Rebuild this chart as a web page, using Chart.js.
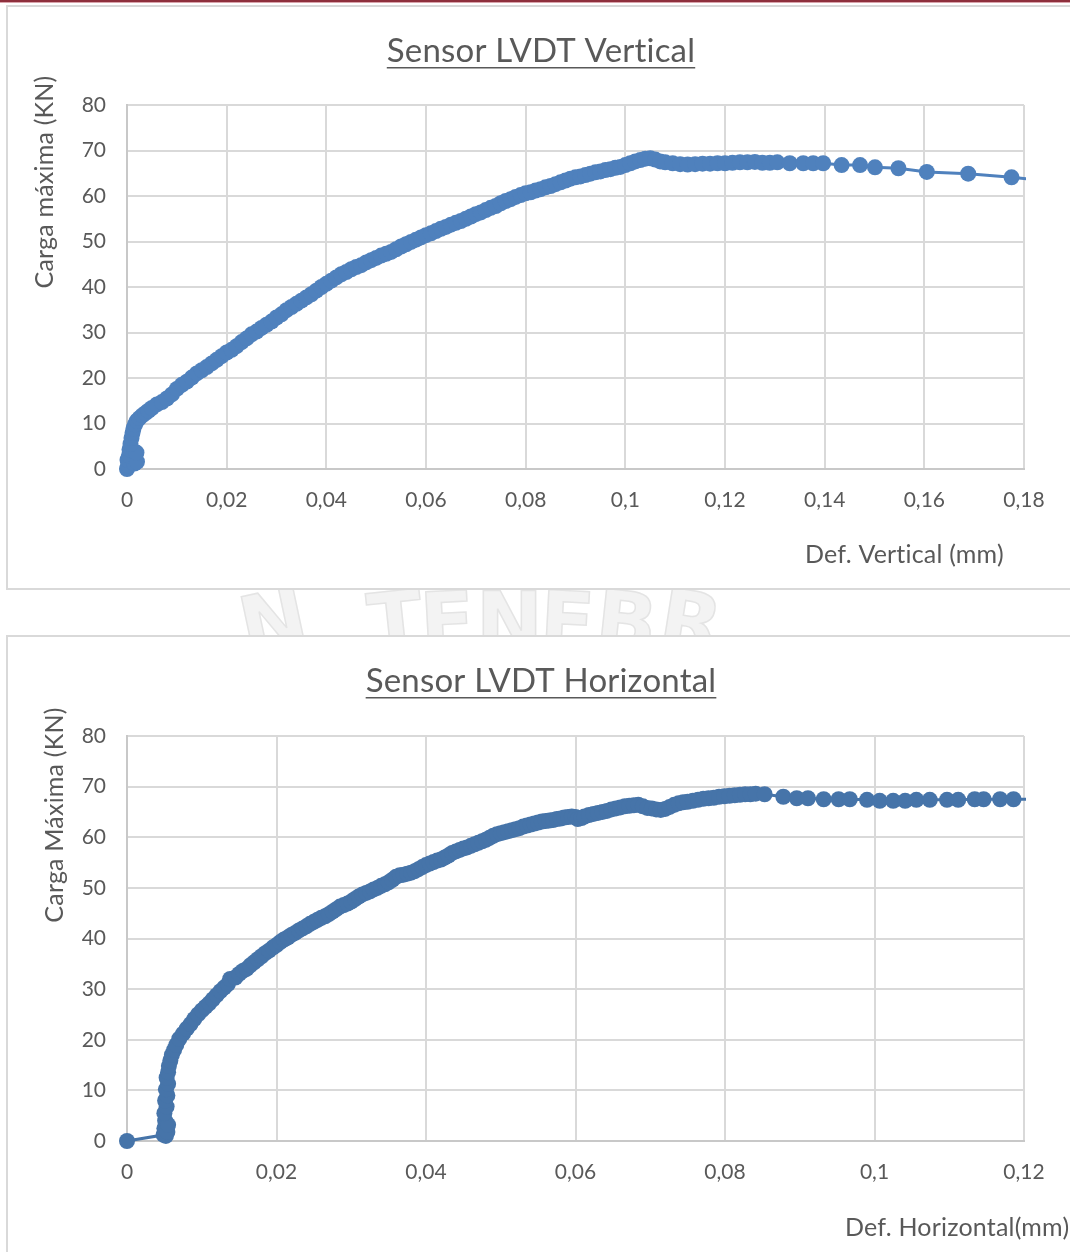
<!DOCTYPE html>
<html>
<head>
<meta charset="utf-8">
<script src="https://cdn.jsdelivr.net/npm/chart.js@4.4.1/dist/chart.umd.min.js"></script>
<style>
  html, body { margin: 0; padding: 0; background: #fff; }
  body { width: 1070px; height: 1252px; position: relative; overflow: hidden; }
  .bar { position: absolute; left: 0; width: 1070px; }
  .frame { position: absolute; left: 6px; width: 1090px; background: #fff; border: 2px solid #d9d9d9; box-sizing: border-box; }
  #f1 { top: 5px; height: 585px; }
  #f2 { top: 635px; height: 660px; }
  .wm { position: absolute; top: 582px; font: bold 80px "DejaVu Sans"; line-height: 1; color: #f3f3f3; -webkit-text-stroke: 1.5px #e4e4e4; }
  canvas { position: absolute; left: 0; }
</style>
</head>
<body>
<div class="bar" style="top:0;height:2px;background:#8e2f3d"></div>
<div class="bar" style="top:2px;height:1px;background:#d9a3ab"></div>

<span class="wm" style="left:240px;transform:rotate(-12deg)">N</span>
<span class="wm" style="left:368px;transform:rotate(-6deg)">T</span>
<span class="wm" style="left:420px;transform:rotate(-3deg)">E</span>
<span class="wm" style="left:476px;transform:rotate(0deg)">N</span>
<span class="wm" style="left:540px;transform:rotate(3deg)">E</span>
<span class="wm" style="left:596px;transform:rotate(6deg)">B</span>
<span class="wm" style="left:660px;transform:rotate(9deg)">R</span>

<div class="frame" id="f1"></div>
<div class="frame" id="f2"></div>

<canvas id="c1" width="1070" height="590" style="top:0"></canvas>
<canvas id="c2" width="1070" height="662" style="top:590px"></canvas>

<script>
// Sensor LVDT Vertical
const defV = [0, 0.0002, 0.0001, 0.0015, 0.0004, 0.0020, 0.0005, 0.0019, 0.0007, 0.0009, 0.0011, 0.0013, 0.0016, 0.0020, 0.0025, 0.0031, 0.0037, 0.0043,
  0.005, 0.006, 0.007, 0.008, 0.009, 0.010, 0.011, 0.012, 0.013, 0.014, 0.015, 0.016, 0.017, 0.018, 0.019, 0.020,
  0.021, 0.022, 0.023, 0.024, 0.025, 0.026, 0.027, 0.028, 0.029, 0.030, 0.031, 0.032, 0.033, 0.034, 0.035, 0.036,
  0.037, 0.038, 0.039, 0.040, 0.041, 0.042, 0.043, 0.044, 0.045, 0.046, 0.047, 0.048, 0.049, 0.050, 0.051, 0.052,
  0.053, 0.054, 0.055, 0.056, 0.057, 0.058, 0.059, 0.060, 0.061, 0.062, 0.063, 0.064, 0.065, 0.066, 0.067, 0.068,
  0.069, 0.070, 0.071, 0.072, 0.073, 0.074, 0.075, 0.076, 0.077, 0.078, 0.079, 0.080, 0.081, 0.082, 0.083, 0.084,
  0.085, 0.086, 0.087, 0.088, 0.089, 0.090, 0.091, 0.092, 0.093, 0.094, 0.095, 0.096, 0.097, 0.098, 0.099, 0.100,
  0.101, 0.102, 0.103, 0.104, 0.105, 0.106, 0.107, 0.108, 0.1095, 0.111, 0.1125, 0.114, 0.1155, 0.117, 0.1185, 0.120,
  0.1215, 0.123, 0.1245, 0.126, 0.1275, 0.129, 0.1305,
  0.1330, 0.1357, 0.1377, 0.1397, 0.1434, 0.1471, 0.1501, 0.1548, 0.1605, 0.1688, 0.1775, 0.1875];
const cargaV = [0, 0.8, 2.0, 1.2, 3.0, 1.6, 4.3, 3.6, 5.5, 6.8, 7.9, 8.9, 9.8, 10.6, 11.2, 11.8, 12.3, 12.8,
  13.4, 14.2, 14.7, 15.5, 16.4, 17.6, 18.5, 19.2, 20.1, 21.0, 21.7, 22.4, 23.2, 24.0, 24.8, 25.6,
  26.2, 27.0, 27.9, 28.7, 29.6, 30.2, 31.0, 31.7, 32.4, 33.3, 34.0, 34.9, 35.6, 36.3, 37.0, 37.7,
  38.4, 39.2, 40.0, 40.7, 41.4, 42.1, 42.8, 43.3, 43.9, 44.4, 44.8, 45.4, 45.9, 46.4, 46.9, 47.3,
  47.7, 48.3, 48.9, 49.4, 49.9, 50.4, 50.9, 51.4, 51.8, 52.3, 52.8, 53.2, 53.7, 54.1, 54.5, 55.0,
  55.5, 56.0, 56.4, 56.9, 57.4, 57.8, 58.4, 58.9, 59.3, 59.8, 60.2, 60.6, 60.8, 61.2, 61.5, 61.9,
  62.2, 62.6, 63.0, 63.4, 63.8, 64.1, 64.3, 64.6, 64.9, 65.2, 65.4, 65.7, 65.9, 66.2, 66.4, 66.8,
  67.2, 67.6, 67.9, 68.2, 68.3, 68.0, 67.6, 67.4, 67.2, 67.0, 66.9, 67.0, 67.1, 67.1, 67.2, 67.2,
  67.3, 67.4, 67.4, 67.5, 67.3, 67.3, 67.4,
  67.2, 67.2, 67.2, 67.2, 66.8, 66.8, 66.3, 66.1, 65.3, 64.9, 64.1, 63.1];
const ticksDefV = [0, 0.02, 0.04, 0.06, 0.08, 0.1, 0.12, 0.14, 0.16, 0.18];

// Sensor LVDT Horizontal
const defH = [0, 0.0049, 0.0052, 0.0050, 0.0054, 0.0051, 0.0055, 0.0050, 0.0053, 0.0051, 0.0054, 0.0052, 0.0055, 0.0053, 0.0055,
  0.0056, 0.0058, 0.0060, 0.0063, 0.0066, 0.0070, 0.0075, 0.0080, 0.0085, 0.0090, 0.0095, 0.0100, 0.0105, 0.0110, 0.0115,
  0.0120, 0.0125, 0.0130, 0.0135, 0.0138, 0.0145, 0.0150, 0.0155, 0.0160, 0.0165, 0.0170, 0.0175, 0.0180, 0.0185, 0.0190,
  0.0195, 0.0200, 0.0205, 0.0210, 0.0215, 0.0220, 0.0225, 0.0230, 0.0235, 0.0240, 0.0245, 0.0250, 0.0255, 0.0260, 0.0265,
  0.0270, 0.0275, 0.0280, 0.0285, 0.0290, 0.0295, 0.0300, 0.0305, 0.0310, 0.0315, 0.0320, 0.0325, 0.0330, 0.0335, 0.0340,
  0.0345, 0.0350, 0.0355, 0.0360, 0.0365, 0.0370, 0.0375, 0.0380, 0.0385, 0.0390, 0.0395, 0.0400, 0.0405, 0.0410, 0.0415,
  0.0420, 0.0425, 0.0430, 0.0435, 0.0440, 0.0445, 0.0450, 0.0455, 0.0460, 0.0465, 0.0470, 0.0475, 0.0480, 0.0485, 0.0490,
  0.0495, 0.0500, 0.0505, 0.0510, 0.0515, 0.0520, 0.0525, 0.0530, 0.0535, 0.0540, 0.0545, 0.0550, 0.0555, 0.0560, 0.0565,
  0.0570, 0.0575, 0.0580, 0.0585, 0.0590, 0.0595, 0.0600, 0.0603, 0.0608, 0.0612, 0.0618, 0.0624, 0.0630, 0.0636, 0.0642,
  0.0648, 0.0654, 0.0660, 0.0666, 0.0672, 0.0678, 0.0684, 0.0690, 0.0696, 0.0702, 0.0708, 0.0714, 0.0720, 0.0726, 0.0732,
  0.0738, 0.0744, 0.0750, 0.0757, 0.0764, 0.0771, 0.0778, 0.0785, 0.0792, 0.0799, 0.0806, 0.0813, 0.0820, 0.0827, 0.0834,
  0.0841, 0.0853, 0.0878, 0.0896, 0.0911, 0.0932, 0.0952, 0.0967, 0.0990, 0.1007, 0.1025, 0.1041, 0.1056, 0.1074, 0.1097,
  0.1112, 0.1134, 0.1146, 0.1168, 0.1186, 0.1250];
const cargaH = [0, 1.2, 1.0, 2.5, 1.8, 4.0, 3.2, 5.5, 6.8, 8.0, 9.0, 10.2, 11.3, 12.5, 13.6,
  14.8, 15.9, 17.0, 18.0, 19.0, 20.2, 21.2, 22.2, 23.1, 24.1, 25.0, 25.8, 26.5, 27.2, 28.0,
  28.8, 29.6, 30.3, 31.0, 32.0, 32.3, 33.0, 33.6, 34.0, 34.7, 35.3, 35.9, 36.5, 37.1, 37.6,
  38.2, 38.7, 39.3, 39.8, 40.2, 40.7, 41.1, 41.6, 42.0, 42.4, 42.9, 43.3, 43.7, 44.1, 44.4,
  44.8, 45.3, 45.8, 46.3, 46.6, 46.9, 47.3, 47.8, 48.3, 48.7, 49.0, 49.3, 49.7, 50.0, 50.4,
  50.7, 51.1, 51.6, 52.2, 52.5, 52.6, 52.8, 53.0, 53.3, 53.7, 54.1, 54.5, 54.8, 55.1, 55.4,
  55.6, 56.0, 56.4, 56.9, 57.2, 57.5, 57.8, 58.0, 58.3, 58.6, 58.9, 59.2, 59.5, 59.9, 60.3,
  60.6, 60.8, 61.0, 61.2, 61.4, 61.6, 61.8, 62.1, 62.3, 62.5, 62.7, 62.9, 63.1, 63.2, 63.3,
  63.4, 63.6, 63.7, 63.9, 64.0, 64.1, 64.0, 63.6, 63.8, 64.1, 64.4, 64.6, 64.8, 65.0, 65.2,
  65.5, 65.7, 65.9, 66.1, 66.2, 66.3, 66.4, 66.1, 65.8, 65.7, 65.5, 65.4, 65.6, 66.0, 66.4,
  66.7, 66.9, 67.0, 67.2, 67.4, 67.6, 67.7, 67.8, 68.0, 68.1, 68.2, 68.3, 68.4, 68.5, 68.5,
  68.6, 68.5, 68.0, 67.7, 67.7, 67.5, 67.5, 67.5, 67.4, 67.2, 67.2, 67.2, 67.4, 67.4, 67.4,
  67.4, 67.5, 67.5, 67.5, 67.5, 67.5];
const ticksDefH = [0, 0.02, 0.04, 0.06, 0.08, 0.1, 0.12];
const ticksCarga = [0, 10, 20, 30, 40, 50, 60, 70, 80];

Chart.defaults.font.family = 'Lato, "Open Sans", sans-serif';
Chart.defaults.color = '#595959';

function textos(t) {
  return {
    id: 'textos',
    afterDraw(chart) {
      const ctx = chart.ctx;
      ctx.save();
      ctx.fillStyle = '#595959';
      ctx.textBaseline = 'middle';
      ctx.letterSpacing = '0.2px';
      ctx.font = '33px Lato';
      ctx.textAlign = 'center';
      ctx.fillText(t.title, t.tx, t.ty);
      const w = ctx.measureText(t.title).width;
      ctx.fillRect(t.tx - w / 2, t.ty + 16, w, 1.5);
      ctx.font = '25px Lato';
      ctx.textAlign = 'left';
      ctx.fillText(t.xTitle, t.xx, t.xy);
      ctx.translate(t.yx, t.yy);
      ctx.rotate(-Math.PI / 2);
      ctx.textAlign = 'center';
      ctx.fillText(t.yTitle, 0, 0);
      ctx.restore();
    }
  };
}

function grafico(id, xs, ys, xTicks, xMax, color, top, bottomH, t) {
  return new Chart(document.getElementById(id), {
    type: 'scatter',
    data: {
      datasets: [{
        data: xs.map((x, i) => ({ x: x, y: ys[i] })),
        showLine: true,
        borderColor: color,
        backgroundColor: color,
        borderWidth: 3,
        pointRadius: 8,
        pointBorderWidth: 0,
        pointHoverRadius: 8,
        clip: { left: 12, top: 12, right: 2, bottom: 12 }
      }]
    },
    options: {
      responsive: false,
      animation: false,
      devicePixelRatio: 1,
      layout: { padding: { top: top, right: 46, bottom: 0, left: 0 } },
      plugins: { legend: { display: false }, tooltip: { enabled: false } },
      events: [],
      scales: {
        x: {
          type: 'linear', min: 0, max: xMax,
          afterFit: s => { s.height = bottomH; },
          afterBuildTicks: s => { s.ticks = xTicks.map(v => ({ value: v })); },
          ticks: {
            padding: 19, font: { size: 21 }, color: '#595959',
            callback: v => String(v).replace('.', ',')
          },
          grid: { color: '#d9d9d9', lineWidth: 2, drawTicks: false },
          border: { color: '#c8c8c8', width: 2 }
        },
        y: {
          min: 0, max: 80,
          afterFit: s => { s.width = 127; },
          afterBuildTicks: s => { s.ticks = ticksCarga.map(v => ({ value: v })); },
          ticks: { padding: 21, font: { size: 21 }, color: '#595959' },
          grid: { color: '#d9d9d9', lineWidth: 2, drawTicks: false },
          border: { color: '#c8c8c8', width: 2 }
        }
      }
    },
    plugins: [textos(t)]
  });
}

grafico('c1', defV, cargaV, ticksDefV, 0.18, '#4f81bd', 105, 121, {
  title: 'Sensor LVDT Vertical', tx: 541, ty: 51,
  xTitle: 'Def. Vertical (mm)', xx: 805, xy: 555,
  yTitle: 'Carga máxima (KN)', yx: 45, yy: 182
});

grafico('c2', defH, cargaH, ticksDefH, 0.12, '#4674a9', 146, 111, {
  title: 'Sensor LVDT Horizontal', tx: 541, ty: 91,
  xTitle: 'Def. Horizontal(mm)', xx: 845, xy: 638,
  yTitle: 'Carga Máxima (KN)', yx: 55, yy: 225
});
</script>
</body>
</html>
